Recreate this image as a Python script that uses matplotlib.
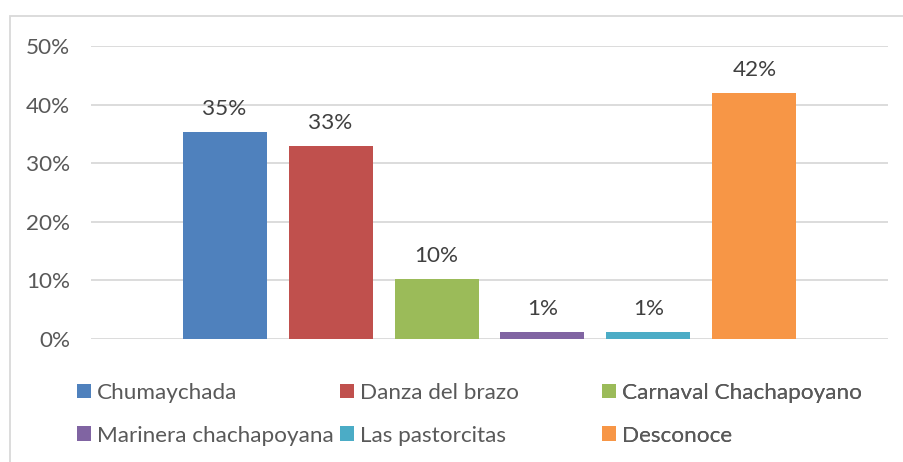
import matplotlib
matplotlib.use("Agg")
import matplotlib.pyplot as plt
from matplotlib.patches import Rectangle

# Datos
danzas = ["Chumaychada", "Danza del brazo", "Carnaval Chachapoyano",
          "Marinera chachapoyana", "Las pastorcitas", "Desconoce"]
porcentajes = [0.354, 0.330, 0.103, 0.012, 0.012, 0.420]
colores = ["#4F81BD", "#C0504D", "#9BBB59", "#8064A2", "#4BACC6", "#F79646"]
yticks = [0.0, 0.1, 0.2, 0.3, 0.4, 0.5]

plt.rcParams['font.family'] = ['Lato', 'DejaVu Sans']
FS = 16.2
texto = "#595959"

W, H = 904, 462
fig = plt.figure(figsize=(W / 100, H / 100), dpi=100)
ax = fig.add_axes([91 / W, 1 - 339 / H, (888 - 91) / W, (339 - 46) / H])

barras = []
for i, (nombre, valor, color) in enumerate(zip(danzas, porcentajes, colores)):
    b = ax.bar(i, valor, width=84 / 106, color=color, label=nombre, zorder=3)
    barras.append(b)
    ax.bar_label(b, labels=[f"{valor * 100:.0f}%"], padding=9,
                 fontsize=FS, color="#404040")

ax.set_xlim(-1.26, len(danzas) - 1 + 1.26)
ax.set_ylim(0, 0.5)
ax.set_yticks(yticks)
ax.set_yticklabels([f"{t * 100:.0f}%" for t in yticks])
ax.set_xticks([])
ax.tick_params(axis="y", length=0, pad=15, labelsize=FS, labelcolor=texto)
ax.grid(axis="y", color="#D9D9D9", linewidth=1.3, zorder=0)
for s in ax.spines.values():
    s.set_visible(False)

# Borde del gráfico
fig.patches.append(Rectangle((10 / W, -0.1), 1.1, 1.1 - 16 / H,
                             transform=fig.transFigure, fill=False,
                             edgecolor="#D9D9D9", linewidth=1.3))

# Leyenda en 3 columnas de ancho igual
columnas = [(0, 3), (1, 4), (2, 5)]
col_x = [77, 340, 602]
for (a, b), x in zip(columnas, col_x):
    leg = ax.legend([barras[a], barras[b]], [danzas[a], danzas[b]],
                    loc="upper left", bbox_to_anchor=(x / W, 1 - 383 / H),
                    bbox_transform=fig.transFigure, frameon=False,
                    fontsize=FS, labelcolor=texto, handlelength=0.62,
                    handleheight=0.62, handletextpad=0.28, labelspacing=1.0,
                    borderpad=0, borderaxespad=0)
    ax.add_artist(leg)

fig.savefig("out.png", dpi=100)
